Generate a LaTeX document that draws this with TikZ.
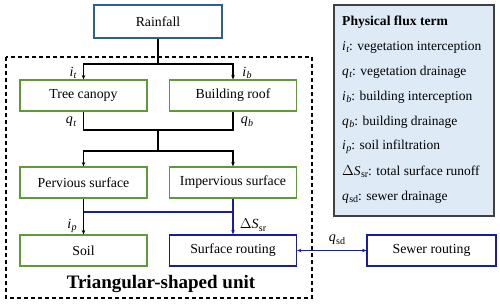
\documentclass[tikz,border=0pt]{standalone}
\usepackage{fontspec}
\setmainfont{Liberation Serif}
\usetikzlibrary{arrows.meta}
\definecolor{rainc}{HTML}{2F5F8F}
\definecolor{greenc}{HTML}{5E9A3A}
\definecolor{bluec}{HTML}{1C1CA0}
\definecolor{legfill}{HTML}{DEEBF7}
\definecolor{legdraw}{HTML}{404040}
\newcommand{\fx}[2]{\textit{#1}\kern0.3pt\raisebox{-0.35ex}{\fontsize{10}{10}\selectfont\itshape #2}}
\newcommand{\fxu}[2]{\textit{#1}\kern0.3pt\raisebox{-0.35ex}{\fontsize{10}{10}\selectfont #2}}
\tikzset{
  box/.style={draw, line width=1.1pt, minimum height=31pt, inner sep=0pt, font=\rmfamily\fontsize{13.8}{15}\selectfont},
  gbox/.style={box, draw=greenc, minimum width=127pt},
  arr/.style={-{Stealth[length=4.5pt,width=3.5pt]}},
  conn/.style={line width=1.1pt, black},
  bconn/.style={line width=1.7pt, bluec},
  lab/.style={font=\rmfamily\fontsize{14}{15}\selectfont, inner sep=0pt},
  legtxt/.style={font=\rmfamily\fontsize{13.5}{14}\selectfont, anchor=west, inner sep=0pt}
}
\begin{document}
\begin{tikzpicture}[x=1pt,y=-1pt]
\useasboundingbox (0,0) rectangle (500,306);
% dashed unit
\draw[line width=1.3pt, dash pattern=on 4pt off 3pt] (6,57) rectangle (312,298);
% boxes
\node[box, draw=rainc, minimum width=128pt, minimum height=33pt] (rain) at (158,21.5) {Rainfall};
\node[gbox] (tree) at (83.5,95.5) {Tree canopy};
\node[gbox] (roof) at (233,95.5) {Building roof};
\node[gbox] (perv) at (83.5,182.5) {Pervious surface};
\node[gbox] (imperv) at (233,182.5) {Impervious surface};
\node[gbox] (soil) at (83.5,250.5) {Soil};
\node[box, draw=bluec, minimum width=127pt] (surf) at (233,250.5) {Surface routing};
\node[box, draw=bluec, minimum width=129pt] (sewer) at (431.5,250.5) {Sewer routing};
% junctions
\coordinate (j1) at (158,64);
\coordinate (j2) at (158,130);
\coordinate (j3) at (158,151);
\coordinate (j4) at (83.5,212);
\coordinate (j5) at (233,212);
% connectors
\draw[conn] (rain.south) -- (j1);
\draw[conn,arr] (j1) -| (tree.north);
\draw[conn,arr] (j1) -| (roof.north);
\draw[conn] (tree.south) |- (j2) -| (roof.south);
\draw[conn] (j2) -- (j3);
\draw[conn,arr] (j3) -| (perv.north);
\draw[conn,arr] (j3) -| (imperv.north);
\draw[bconn] (j4) -- (j5);
\draw[bconn] (imperv.south) -- (j5);
\draw[bconn,arr] (j5) -- (surf.north);
\draw[conn,arr] (perv.south) -- (soil.north);
\draw[bconn,{Stealth[length=4.5pt,width=3.5pt]}-{Stealth[length=4.5pt,width=3.5pt]}] (surf.east) -- (sewer.west);
% flux labels
\node[lab] (lit) at (73,73) {\fx{i}{t}};
\node[lab] (lib) at (247,73) {\fx{i}{b}};
\node[lab] (lqt) at (71,122) {\fx{q}{t}};
\node[lab] (lqb) at (247,122) {\fx{q}{b}};
\node[lab] (lip) at (72,226) {\fx{i}{p}};
\node[lab] (lds) at (253,225) {$\Delta$\fxu{S}{sr}};
\node[lab] (lqs) at (337,240) {\fxu{q}{sd}};
% title
\node[font=\rmfamily\bfseries\fontsize{19}{21}\selectfont, inner sep=0pt] (title) at (161,284) {Triangular-shaped unit};
% legend
\draw[fill=legfill, draw=legdraw, line width=1.1pt] (334,5) rectangle (494,216);
\node[legtxt, font=\rmfamily\bfseries\fontsize{13.6}{14}\selectfont] (l0) at (342,22) {Physical flux term};
\node[legtxt] (l1) at (342,47) {\fx{i}{t}: vegetation interception};
\node[legtxt] (l2) at (342,72) {\fx{q}{t}: vegetation drainage};
\node[legtxt] (l3) at (342,97) {\fx{i}{b}: building interception};
\node[legtxt] (l4) at (342,122) {\fx{q}{b}: building drainage};
\node[legtxt] (l5) at (342,147) {\fx{i}{p}: soil infiltration};
\node[legtxt] (l6) at (342,172) {$\Delta$\fxu{S}{sr}: total surface runoff};
\node[legtxt] (l7) at (342,197) {\fxu{q}{sd}: sewer drainage};
\end{tikzpicture}
\end{document}
